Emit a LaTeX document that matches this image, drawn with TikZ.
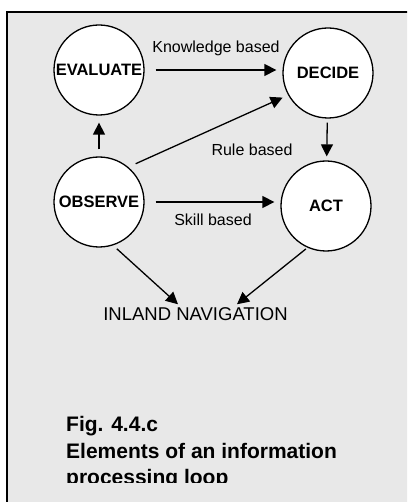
\documentclass[tikz,border=0pt]{standalone}
\usepackage{fontspec}
\setmainfont{Liberation Sans}
\usetikzlibrary{arrows.meta,positioning}
\definecolor{panelgray}{RGB}{232,232,232}
\tikzset{
  stage/.style={draw,circle,fill=white,line width=1.3pt,minimum size=90pt,inner sep=0pt,
    font=\fontsize{16.5}{19}\selectfont\bfseries},
  flow/.style={line width=1.3pt,-{Triangle[length=12pt,width=12pt]}},
  lbl/.style={font=\fontsize{16}{19}\selectfont}
}

\begin{document}
\begin{tikzpicture}[x=1pt,y=-1pt]
  \useasboundingbox (0,0) rectangle (407,502);
  \clip (0,0) rectangle (407,502);
  \draw[line width=2pt,fill=panelgray] (7,12) rectangle (430,530);

  % the four stages
  \node[stage] (evaluate) at (99,70) {EVALUATE};
  \node[stage] (decide) at (328,73) {DECIDE};
  \node[stage] (observe) at (99,202) {OBSERVE};
  \node[stage] (act) at (326,206) {ACT};
  \node[font=\fontsize{18.5}{22}\selectfont,anchor=base] (nav) at (195.5,320.7) {INLAND NAVIGATION};

  % arrows between stages
  \draw[flow,shorten <=11pt,shorten >=6pt] (evaluate.east) -- (evaluate.east -| decide.west);
  \draw[flow,shorten <=7pt,shorten >=7pt] (observe) -- (evaluate);
  \draw[flow,shorten <=8pt,shorten >=6pt] (observe.50) -- (decide.209);
  \draw[flow,shorten <=4pt,shorten >=4pt] (decide) -- (act);
  \draw[flow,shorten <=11pt,shorten >=6pt] (observe.east) -- (observe.east -| act.west);
  \draw[flow,shorten <=5pt] (observe.-72) -- ([xshift=-17.5pt]nav.north);
  \draw[flow,shorten <=2pt] (act.-114) -- ([xshift=41.5pt]nav.north);

  \node[lbl] (knowledge) at (216,48) {Knowledge based};
  \node[lbl] (rule) at (252,150) {Rule based};
  \node[lbl] (skill) at (213,220) {Skill based};

  % caption, cut off at the bottom as in the original
  \begin{scope}
    \clip (0,0) rectangle (407,482);
    \node[anchor=base west,align=left,inner sep=0pt,font=\fontsize{21}{26.5}\selectfont\bfseries]
      (caption) at (66,484.8) {Fig. 4.4.c\\Elements of an information\\processing loop};
  \end{scope}
\end{tikzpicture}
\end{document}
